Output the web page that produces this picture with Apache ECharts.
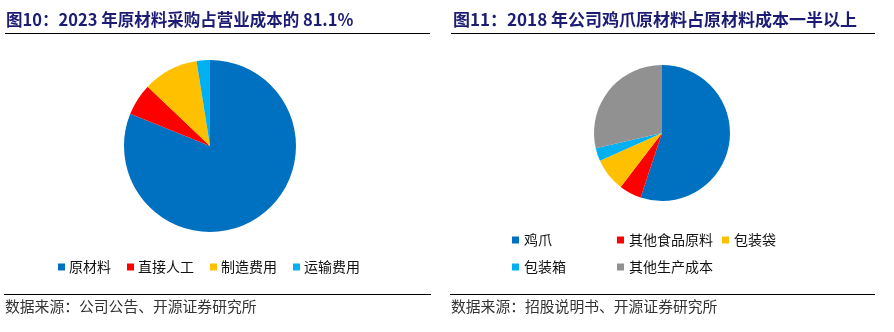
<!DOCTYPE html>
<html><head><meta charset="utf-8">
<script src="https://cdn.jsdelivr.net/npm/echarts@6/dist/echarts.min.js"></script>
<style>html,body{margin:0;padding:0;background:#fff}#c{width:894px;height:332px}</style>
</head><body><div id="c"></div>
<script>
const leftTitle = '图10：2023 年原材料采购占营业成本的 81.1%';
const rightTitle = '图11：2018 年公司鸡爪原材料占原材料成本一半以上';
const leftSource = '数据来源：公司公告、开源证券研究所';
const rightSource = '数据来源：招股说明书、开源证券研究所';
const leftNames = ['原材料', '直接人工', '制造费用', '运输费用'];
const leftValues = [81.1, 6.0, 10.4, 2.5];
const rightNames = ['鸡爪', '其他食品原料', '包装袋', '包装箱', '其他生产成本'];
const rightValues = [55.1, 5.3, 7.9, 3.1, 28.6];

const FONT = '"Noto Sans CJK SC", sans-serif';
const leftColors = ['#0070C0', '#FF0000', '#FFC000', '#00B0F0'];
const rightColors = ['#0070C0', '#FF0000', '#FFC000', '#00B0F0', '#919191'];

const chart = echarts.init(document.getElementById('c'), null, {renderer: 'canvas'});
chart.setOption({
  animation: false,
  backgroundColor: '#fff',
  textStyle: {fontFamily: FONT},
  legend: [
    {
      data: leftNames, left: 53, top: 254, orient: 'horizontal',
      icon: 'rect', itemWidth: 7, itemHeight: 7, itemGap: 16,
      textStyle: {fontFamily: FONT, fontSize: 14, color: '#111', lineHeight: 16, padding: [0, 0, 0, -1]}
    },
    {
      data: rightNames, left: 507, top: 224, width: 320, orient: 'horizontal',
      icon: 'rect', itemWidth: 7, itemHeight: 7, itemGap: 5,
      textStyle: {fontFamily: FONT, fontSize: 14, color: '#111', lineHeight: 22, width: 88}
    }
  ],
  series: [
    {
      type: 'pie', center: [210, 146], radius: 86, startAngle: 90, clockwise: true,
      label: {show: false}, labelLine: {show: false}, emphasis: {disabled: true},
      data: leftNames.map((n, i) => ({name: n, value: leftValues[i], itemStyle: {color: leftColors[i]}}))
    },
    {
      type: 'pie', center: [662, 133], radius: 68, startAngle: 90, clockwise: true,
      label: {show: false}, labelLine: {show: false}, emphasis: {disabled: true},
      data: rightNames.map((n, i) => ({name: n, value: rightValues[i], itemStyle: {color: rightColors[i]}}))
    }
  ],
  graphic: [
    {type: 'text', left: 6, top: 11, style: {text: leftTitle, font: 'bold 16.5px ' + FONT, fill: '#1c1c74'}},
    {type: 'text', left: 453, top: 11, style: {text: rightTitle, font: 'bold 17px ' + FONT, fill: '#1c1c74'}},
    {type: 'line', shape: {x1: 5, y1: 33.5, x2: 430, y2: 33.5}, style: {stroke: '#000', lineWidth: 1.2}},
    {type: 'line', shape: {x1: 451, y1: 33.5, x2: 875, y2: 33.5}, style: {stroke: '#000', lineWidth: 1.2}},
    {type: 'line', shape: {x1: 4, y1: 294.5, x2: 431, y2: 294.5}, style: {stroke: '#000', lineWidth: 1.2}},
    {type: 'line', shape: {x1: 450, y1: 294.5, x2: 875, y2: 294.5}, style: {stroke: '#000', lineWidth: 1.2}},
    {type: 'text', left: 5, top: 299, style: {text: leftSource, font: '14.8px ' + FONT, fill: '#333'}},
    {type: 'text', left: 451, top: 299, style: {text: rightSource, font: '14.8px ' + FONT, fill: '#333'}}
  ]
});
</script>
</body></html>
